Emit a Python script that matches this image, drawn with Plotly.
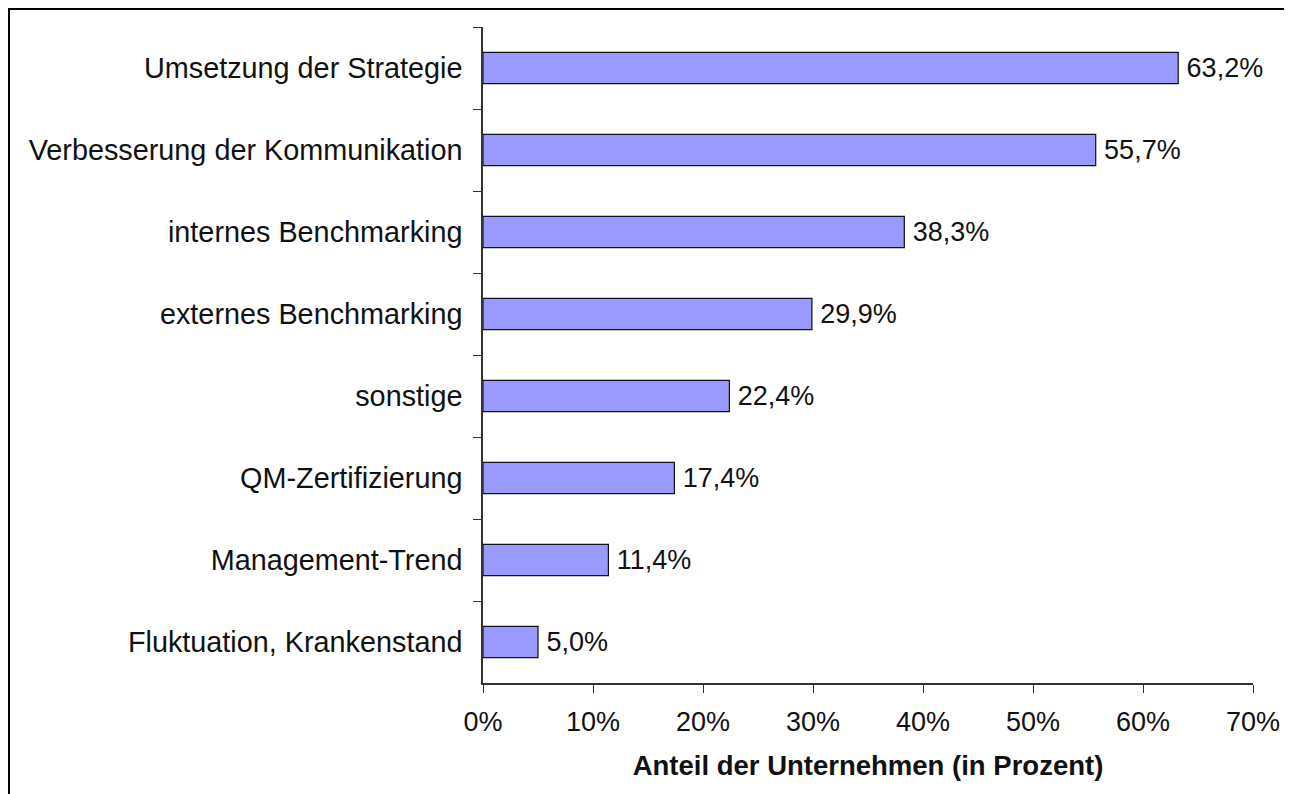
import plotly.graph_objects as go

categories = [
    "Umsetzung der Strategie",
    "Verbesserung der Kommunikation",
    "internes Benchmarking",
    "externes Benchmarking",
    "sonstige",
    "QM-Zertifizierung",
    "Management-Trend",
    "Fluktuation, Krankenstand",
]
values = [63.2, 55.7, 38.3, 29.9, 22.4, 17.4, 11.4, 5.0]
x_ticks = [0, 10, 20, 30, 40, 50, 60, 70]
x_tick_labels = [f"{t}%" for t in x_ticks]
x_title = "Anteil der Unternehmen (in Prozent)"

labels = ["\u2009" + f"{v:.1f}".replace(".", ",") + "%" for v in values]

# page body has an 8px default margin; figure coordinates are offset by it
OFF = 8
W, H = 1292 - OFF, 794 - OFF
L, T = 483 - OFF, 27 - OFF
pw, ph = 770, 656
R = W - L - pw
B = H - T - ph


def px(x):
    return (x - L) / pw


def py(y):
    return (H - B - y) / ph


font_family = "Liberation Sans, Arial, Helvetica, sans-serif"

fig = go.Figure(
    go.Bar(
        x=values,
        y=categories,
        orientation="h",
        marker=dict(color="#9999FF", line=dict(color="#111111", width=1.2)),
        text=labels,
        textposition="outside",
        textfont=dict(size=27, color="#111111", family=font_family),
        cliponaxis=False,
        width=0.38,
    )
)

fig.update_layout(
    width=W,
    height=H,
    margin=dict(l=L, r=R, t=T, b=B, autoexpand=False),
    paper_bgcolor="white",
    plot_bgcolor="white",
    font=dict(family=font_family, size=27, color="#111111"),
    showlegend=False,
    xaxis=dict(
        range=[0, 70],
        tickmode="array",
        tickvals=x_ticks,
        ticktext=x_tick_labels,
        showgrid=False,
        zeroline=False,
        showline=True,
        linecolor="#333333",
        linewidth=1.5,
        ticks="outside",
        ticklen=8,
        tickcolor="#333333",
        tickfont=dict(size=27),
        ticklabelstandoff=6,
        title=dict(text=f"<b>{x_title}</b>", font=dict(size=27.5), standoff=20),
    ),
    yaxis=dict(
        autorange="reversed",
        showgrid=False,
        showline=True,
        linecolor="#333333",
        linewidth=1.5,
        ticks="outside",
        ticklen=8,
        tickcolor="#333333",
        tickson="boundaries",
        tickfont=dict(size=28.8),
        ticklabelstandoff=13,
    ),
    shapes=[
        dict(
            type="rect",
            xref="paper",
            yref="paper",
            x0=px(0.5),
            x1=px(1281),
            y0=py(830),
            y1=py(0.5),
            line=dict(color="black", width=3),
            fillcolor="rgba(0,0,0,0)",
            layer="above",
        )
    ],
)

fig.write_html("out.html")
